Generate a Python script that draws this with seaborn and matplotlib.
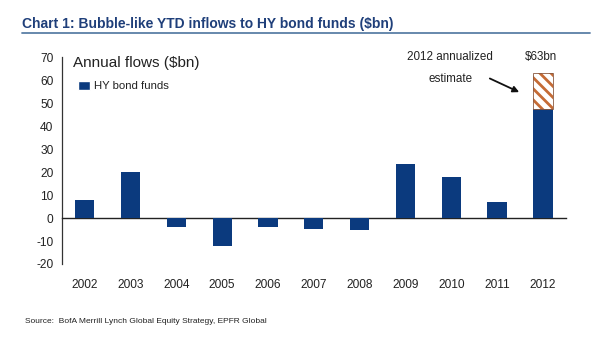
import numpy as np
import pandas as pd
import matplotlib
matplotlib.use("Agg")
import matplotlib.pyplot as plt
from matplotlib.patches import Patch
import seaborn as sns

years = ["2002", "2003", "2004", "2005", "2006", "2007", "2008", "2009", "2010", "2011", "2012"]
flows = [8, 20, -3.7, -12, -3.7, -4.9, -5.3, 23.4, 17.7, 7.2, 47.6]
estimate_2012 = 63
yticks = [-20, -10, 0, 10, 20, 30, 40, 50, 60, 70]

navy = "#0B3A7E"
hatch_col = "#C56B35"

sns.set_style("white")
plt.rcParams["font.family"] = ["Liberation Sans", "DejaVu Sans"]
plt.rcParams["hatch.linewidth"] = 2.0
plt.rcParams["axes.unicode_minus"] = False

df = pd.DataFrame({"year": years, "flow": flows})

fig = plt.figure(figsize=(6, 3.52), dpi=100)
ax = fig.add_axes([0.103, 0.25, 0.84, 0.587])

# annualized estimate stacked on the 2012 bar
i12 = years.index("2012")
ax.bar(i12, estimate_2012 - flows[i12], bottom=flows[i12], width=0.42,
       color="white", edgecolor=hatch_col, hatch="\\\\\\", linewidth=0, zorder=3)
ax.bar(i12, estimate_2012 - flows[i12], bottom=flows[i12], width=0.42,
       color="none", edgecolor="#8a5a40", linewidth=0.6, zorder=4)

sns.barplot(data=df, x="year", y="flow", color=navy, width=0.42,
            saturation=1, linewidth=0, ax=ax, zorder=3)

ax.set_ylim(-20, 70)
ax.set_xlim(-0.5, 10.5)
ax.set_yticks(yticks)
ax.set_xlabel("")
ax.set_ylabel("")

for s in ["top", "right"]:
    ax.spines[s].set_visible(False)
ax.spines["left"].set_color("#333333")
ax.spines["left"].set_linewidth(0.9)
ax.spines["bottom"].set_position(("data", 0))
ax.spines["bottom"].set_color("#222222")
ax.spines["bottom"].set_linewidth(1.0)

ax.set_xticks(np.arange(0.5, 10.6, 1), minor=True)
ax.tick_params(axis="x", which="minor", direction="out", length=5, width=0.9, color="#222222")
ax.tick_params(axis="x", which="major", length=0, pad=44, labelsize=8.6, labelcolor="#222222")
ax.tick_params(axis="y", direction="out", length=4, width=0.9, color="#333333",
               labelsize=8.6, labelcolor="#222222", pad=2)

ax.text(0.022, 0.975, "Annual flows ($bn)", transform=ax.transAxes, fontsize=11,
        color="#222222", va="center", ha="left")
ax.legend(handles=[Patch(facecolor=navy, label="HY bond funds")], loc="upper left",
          bbox_to_anchor=(0.02, 0.915), frameon=False, fontsize=8.2,
          handlelength=1.05, handleheight=0.95, handletextpad=0.35, borderpad=0,
          labelcolor="#222222")

# annotation
ax.annotate("", xy=(521.7, 352 - 93.3), xycoords="figure pixels",
            xytext=(487.3, 352 - 77.3), textcoords="figure pixels",
            arrowprops=dict(arrowstyle="-|>", color="#111111", lw=1.3, mutation_scale=9))
fig.text(449.7 / 600, 1 - 56.7 / 352, "2012 annualized", fontsize=8.4, ha="center",
         va="center", color="#222222")
fig.text(450.3 / 600, 1 - 79 / 352, "estimate", fontsize=8.4, ha="center",
         va="center", color="#222222")
fig.text(540.8 / 600, 1 - 56.7 / 352, "$" + str(estimate_2012) + "bn", fontsize=8.4,
         ha="center", va="center", color="#222222")

# title and rule
fig.text(22 / 600, 1 - 24.3 / 352, "Chart 1: Bubble-like YTD inflows to HY bond funds ($bn)",
         fontsize=10, fontweight="bold", color="#1F3F7A", ha="left", va="center")
fig.add_artist(plt.Line2D([22 / 600, 590 / 600], [1 - 32.7 / 352, 1 - 32.7 / 352],
                          color="#5B7FA6", lw=1.3))

fig.text(25 / 600, 1 - 321.7 / 352,
         "Source:  BofA Merrill Lynch Global Equity Strategy, EPFR Global",
         fontsize=6, color="#222222", ha="left", va="center")

fig.savefig("out.png", dpi=100)
